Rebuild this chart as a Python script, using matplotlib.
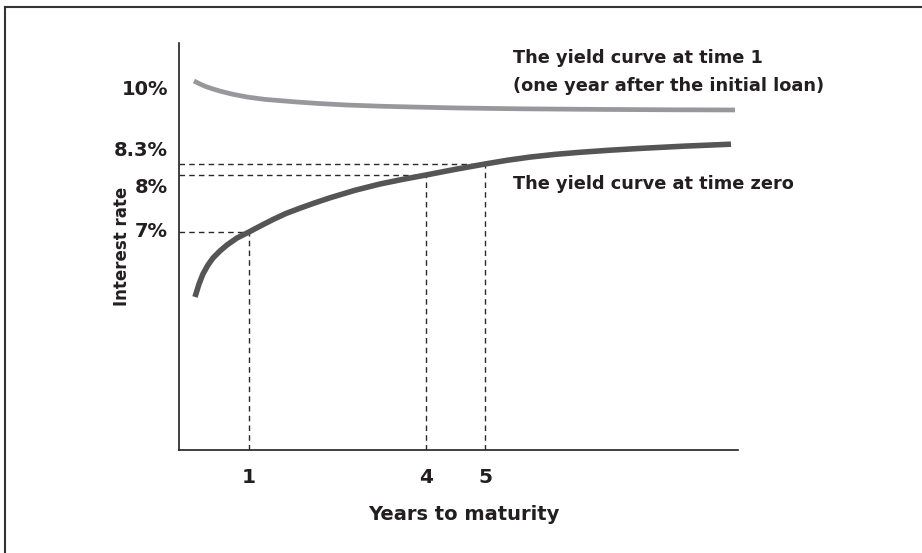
import numpy as np
import matplotlib
matplotlib.use("Agg")
import matplotlib.pyplot as plt
from matplotlib.lines import Line2D

# yield curves: years to maturity vs interest rate (%)
years_t0 = [0.085, 0.153, 0.22, 0.305, 0.39, 0.508, 0.627, 0.797, 1.0, 1.186, 1.407, 1.627,
            1.864, 2.119, 2.373, 2.797, 3.22, 3.593, 4.0, 4.492, 5.0, 5.373, 5.763, 6.186,
            6.61, 7.119, 7.627, 8.39, 9.169]
rate_t0 = [5.86, 6.088, 6.263, 6.421, 6.544, 6.667, 6.772, 6.895, 7.0, 7.102, 7.219, 7.325,
           7.418, 7.512, 7.6, 7.732, 7.842, 7.921, 8.0, 8.153, 8.3, 8.385, 8.459, 8.521,
           8.569, 8.617, 8.658, 8.711, 8.755]

years_t1 = [0.068, 0.169, 0.271, 0.39, 0.542, 0.729, 0.966, 1.271, 1.814, 2.203, 2.661,
            3.22, 3.78, 4.576, 5.593, 6.949, 8.136, 9.237]
rate_t1 = [10.207, 10.138, 10.078, 10.023, 9.963, 9.901, 9.839, 9.784, 9.724, 9.688, 9.655,
           9.628, 9.609, 9.586, 9.568, 9.554, 9.545, 9.541]

# rates
marked_years = [1, 4, 5]
marked_rates = [7.0, 8.0, 8.3]

rate_ticks = [7, 8, 8.3, 10]
rate_labels = ["7%", "8%", "8.3%", "10%"]
rate_label_dy = [0, -9, 10, 0]  # nudges (points) so 8% and 8.3% don't collide

# schematic (non-linear) rate axis
rate_knots = [0, 7, 8, 8.3, 10, 20]
height_knots = [-181, 218, 275, 286, 360, 795]


def fwd(y):
    return np.interp(y, rate_knots, height_knots)


def inv(h):
    return np.interp(h, height_knots, rate_knots)


TXT = "#231f20"
plt.rcParams["font.family"] = ["DejaVu Sans"]
plt.rcParams["font.weight"] = "bold"

fig = plt.figure(figsize=(9.22, 5.53), dpi=100)
ax = fig.add_axes([179 / 922, 103 / 553, 559 / 922, 407 / 553])

ax.set_yscale("function", functions=(fwd, inv))
ax.set_xlim(-0.186, 9.288)
ax.set_ylim(inv(0), inv(407))

ax.plot(years_t1, rate_t1, color="#98989c", lw=3.4, solid_capstyle="butt", solid_joinstyle="round")
ax.plot(years_t0, rate_t0, color="#555555", lw=4.0, solid_capstyle="butt", solid_joinstyle="round")

x0 = ax.get_xlim()[0]
y0 = ax.get_ylim()[0]
for yr, r in zip(marked_years, marked_rates):
    ax.plot([x0, yr], [r, r], color="#2a2a2a", lw=1.0, ls=(0, (4, 3)), zorder=1)
    ax.plot([yr, yr], [y0, r], color="#2a2a2a", lw=1.0, ls=(0, (4, 3)), zorder=1)

for s in ["top", "right"]:
    ax.spines[s].set_visible(False)
for s in ["left", "bottom"]:
    ax.spines[s].set_linewidth(1.2)
    ax.spines[s].set_color("#231f20")

ax.set_xticks(marked_years)
ax.set_xticklabels([str(y) for y in marked_years], fontsize=14.5, fontweight="bold", color=TXT)
ax.tick_params(axis="x", length=0, pad=13)
ax.set_yticks([])
ax.tick_params(axis="y", length=0)

for r, lab, dy in zip(rate_ticks, rate_labels, rate_label_dy):
    ax.annotate(lab, xy=(0, r), xycoords=ax.get_yaxis_transform(),
                xytext=(-8, dy), textcoords="offset points",
                ha="right", va="center", fontsize=14, fontweight="bold", color=TXT)

ax.set_xlabel("Years to maturity", fontsize=14, fontweight="bold", color=TXT)
ax.xaxis.set_label_coords(0.51, -0.135)
ax.xaxis.label.set_va("top")
ax.set_ylabel("Interest rate", fontsize=12, fontweight="bold", color=TXT)
ax.yaxis.set_label_coords(-0.085, 0.5)

ax.text(5.47, 10.41, "The yield curve at time 1\n(one year after the initial loan)",
        ha="left", va="center", fontsize=12.8, fontweight="bold", color=TXT, linespacing=1.7)
ax.text(5.47, 7.84, "The yield curve at time zero",
        ha="left", va="center", fontsize=12.8, fontweight="bold", color=TXT)

# partial frame around the figure
fig.add_artist(Line2D([5 / 922, 1], [1 - 7 / 553, 1 - 7 / 553], transform=fig.transFigure,
                      color="#333333", lw=1.5))
fig.add_artist(Line2D([5 / 922, 5 / 922], [0, 1 - 7 / 553], transform=fig.transFigure,
                      color="#333333", lw=1.5))

fig.savefig("out.png", dpi=100)
